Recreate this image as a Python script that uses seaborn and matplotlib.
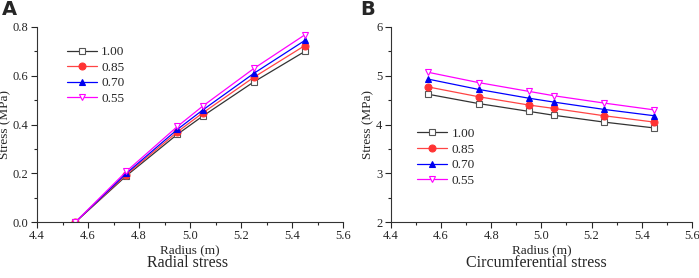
import pandas as pd
import matplotlib.pyplot as plt
import seaborn as sns

radius = [4.55, 4.75, 4.95, 5.05, 5.25, 5.45]
labels = ['1.00', '0.85', '0.70', '0.55']

radial = {
    '1.00': [0.0, 0.190, 0.360, 0.435, 0.575, 0.700],
    '0.85': [0.0, 0.195, 0.370, 0.448, 0.594, 0.724],
    '0.70': [0.0, 0.200, 0.380, 0.460, 0.610, 0.745],
    '0.55': [0.0, 0.208, 0.392, 0.476, 0.630, 0.768],
}
circ = {
    '1.00': [4.62, 4.43, 4.27, 4.19, 4.05, 3.93],
    '0.85': [4.77, 4.57, 4.40, 4.33, 4.18, 4.05],
    '0.70': [4.93, 4.72, 4.54, 4.46, 4.31, 4.18],
    '0.55': [5.07, 4.86, 4.68, 4.59, 4.44, 4.30],
}

styles = {
    '1.00': dict(color='#333333', marker='s', markerfacecolor='white', markeredgecolor='#555555'),
    '0.85': dict(color='#ff4444', marker='o', markerfacecolor='#ff3333', markeredgecolor='#ff3333'),
    '0.70': dict(color='#0000ff', marker='^', markerfacecolor='#0000ee', markeredgecolor='#0000ee'),
    '0.55': dict(color='#ff00ff', marker='v', markerfacecolor='white', markeredgecolor='#ff00ff'),
}

sns.set_style('ticks')
plt.rcParams['font.family'] = 'serif'
plt.rcParams['font.serif'] = ['Liberation Serif', 'Times New Roman', 'DejaVu Serif']
plt.rcParams['xtick.direction'] = 'out'
plt.rcParams['ytick.direction'] = 'out'

fig = plt.figure(figsize=(6.99, 2.78), dpi=100)
ax1 = fig.add_axes([0.053, 0.201, 0.438, 0.702])
ax2 = fig.add_axes([0.559, 0.201, 0.431, 0.702])


def draw(ax, data, ylim, yticks, ydec, legend_loc):
    for lab in labels:
        sns.lineplot(x=radius, y=data[lab], ax=ax, label=lab, linewidth=0.9,
                     markersize=5, markeredgewidth=0.8, **styles[lab])
    ax.set_xlim(4.4, 5.6)
    ax.set_ylim(*ylim)
    ax.set_xticks([4.4, 4.6, 4.8, 5.0, 5.2, 5.4, 5.6])
    ax.set_xticklabels([f'{v:.1f}' for v in [4.4, 4.6, 4.8, 5.0, 5.2, 5.4, 5.6]])
    ax.set_xticks([4.5, 4.7, 4.9, 5.1, 5.3, 5.5], minor=True)
    ax.set_yticks(yticks)
    ax.set_yticklabels([f'{v:.{ydec}f}' for v in yticks])
    ax.set_yticks([(a + b) / 2 for a, b in zip(yticks[:-1], yticks[1:])], minor=True)
    ax.tick_params(which='major', length=4, width=0.8, labelsize=9, pad=2)
    ax.tick_params(which='minor', length=2.5, width=0.8)
    ax.set_xlabel('Radius (m)', fontsize=9.5, labelpad=1)
    ax.set_ylabel('Stress (MPa)', fontsize=9.5, labelpad=1)
    for s in ['left', 'bottom']:
        ax.spines[s].set_color('#333333')
        ax.spines[s].set_linewidth(0.8)
    sns.despine(ax=ax)
    ax.legend(loc='upper left', bbox_to_anchor=legend_loc, frameon=False, fontsize=9.5,
              handlelength=2.3, handletextpad=0.3, labelspacing=0.25, borderaxespad=0)


draw(ax1, radial, (0, 0.8), [0.0, 0.2, 0.4, 0.6, 0.8], 1, (0.08, 0.93))
draw(ax2, circ, (2, 6), [2, 3, 4, 5, 6], 0, (0.07, 0.51))

fig.text(0.269, 0.055, 'Radial stress', ha='center', va='center', fontsize=11.5)
fig.text(0.768, 0.055, 'Circumferential stress', ha='center', va='center', fontsize=11.5)
fig.text(0.003, 0.965, 'A', ha='left', va='center', fontsize=14, fontweight='bold', family='DejaVu Sans')
fig.text(0.516, 0.965, 'B', ha='left', va='center', fontsize=14, fontweight='bold', family='DejaVu Sans')

fig.savefig('out.png', dpi=100)
